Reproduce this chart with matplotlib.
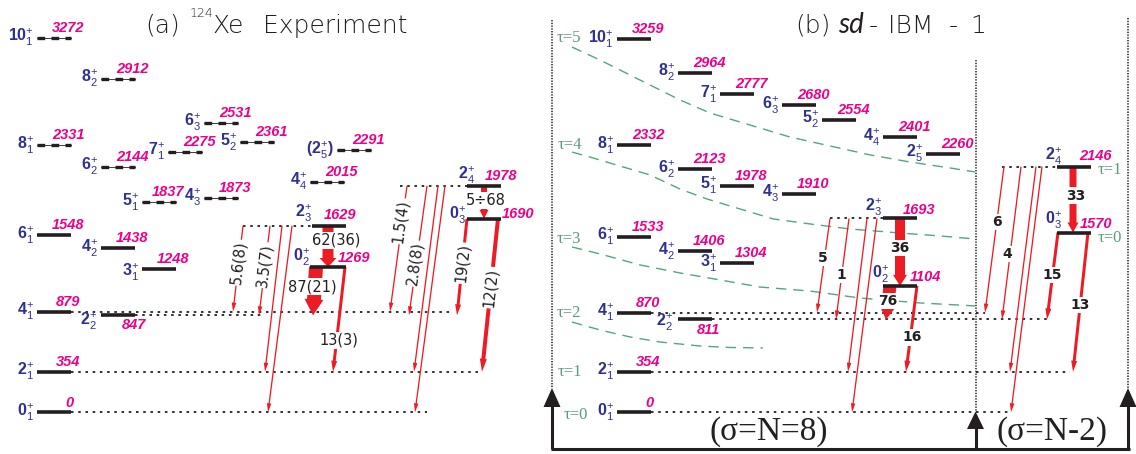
import math
import matplotlib
matplotlib.use("Agg")
import matplotlib.pyplot as plt
from matplotlib.patches import FancyArrowPatch, ArrowStyle, Polygon

plt.rcParams['mathtext.fontset'] = 'custom'
plt.rcParams['mathtext.rm'] = 'Liberation Sans'
plt.rcParams['mathtext.bf'] = 'Liberation Sans:bold'
plt.rcParams['mathtext.it'] = 'Liberation Sans:italic'

NAVY = '#2e3192'
MAGENTA = '#ec008c'
RED = '#ed1c24'
INK = '#231f20'
GREEN = '#55a679'
GREEN_TXT = '#5a9c78'
DPI = 100

# ---------------- 124Xe experimental levels (keV) ----------------
exp_spin = ['10', '8', '7', '6', '5', '8', '6', '5', '4', '2', '4',
            '2', '2', '0', '6', '4', '3', '0', '4', '2', '2', '0']
exp_index = [1, 2, 1, 3, 2, 1, 2, 1, 3, 5, 4,
             3, 4, 3, 1, 2, 1, 2, 1, 2, 1, 1]
exp_energy = [3272, 2912, 2275, 2531, 2361, 2331, 2144, 1837, 1873, 2291, 2015,
              1629, 1978, 1690, 1548, 1438, 1248, 1269, 879, 847, 354, 0]
exp_tentative = [True] * 11 + [False] * 11
exp_bracketed = ['2_5']

# experimental B(E2) values (W.u.)
exp_tr_from = ['2_3', '2_3', '2_3', '2_3', '2_3', '0_2', '0_2',
               '2_4', '2_4', '2_4', '2_4', '2_4', '0_3', '0_3']
exp_tr_to = ['4_1', '2_2', '2_1', '0_1', '0_2', '2_2', '2_1',
             '4_1', '2_2', '2_1', '0_1', '0_3', '2_2', '2_1']
exp_tr_label = ['5.6(8)', '3.5(7)', '', '', '62(36)', '87(21)', '13(3)',
                '1.5(4)', '2.8(8)', '', '', '5\u00f768', '19(2)', '12(2)']

# ---------------- sd-IBM-1 levels (keV) ----------------
ibm_spin = ['10', '8', '7', '6', '5', '4', '2', '8', '6', '5', '4',
            '2', '2', '0', '6', '4', '3', '0', '4', '2', '2', '0']
ibm_index = [1, 2, 1, 3, 2, 4, 5, 1, 2, 1, 3,
             3, 4, 3, 1, 2, 1, 2, 1, 2, 1, 1]
ibm_energy = [3259, 2964, 2777, 2680, 2554, 2401, 2260, 2332, 2123, 1978, 1910,
              1693, 2146, 1570, 1533, 1406, 1304, 1104, 870, 811, 354, 0]

# calculated B(E2) values (W.u.)
ibm_tr_from = ['2_3', '2_3', '2_3', '2_3', '2_3', '0_2', '0_2',
               '2_4', '2_4', '2_4', '2_4', '2_4', '0_3', '0_3']
ibm_tr_to = ['4_1', '2_2', '2_1', '0_1', '0_2', '2_2', '2_1',
             '4_1', '2_2', '2_1', '0_1', '0_3', '2_2', '2_1']
ibm_tr_label = ['5', '1', '', '', '36', '76', '16',
                '6', '4', '', '', '33', '15', '13']

# seniority bands (tau) of the O(6)-like classification
tau_names = ['\u03c4=5', '\u03c4=4', '\u03c4=3', '\u03c4=2', '\u03c4=1', '\u03c4=0',
             '\u03c4=1', '\u03c4=0']
tau_anchor = ['10_1', '8_1', '6_1', '4_1', '2_1', '0_1', '2_4', '0_3']

# dashed guide curves through the tau groups: (x, energy keV)
tau5_curve = [(572, 3190), (600, 3077), (640, 2902), (680, 2728), (710, 2614), (750, 2509),
              (790, 2404), (830, 2326), (870, 2248), (910, 2186), (950, 2134), (975, 2099)]
tau4_curve = [(572, 2273), (590, 2229), (620, 2151), (650, 2073), (680, 1950), (707, 1863),
              (740, 1776), (773, 1689), (810, 1645), (850, 1601), (900, 1566), (940, 1540),
              (975, 1514)]
tau3_curve = [(572, 1444), (600, 1383), (640, 1287), (680, 1217), (720, 1156), (760, 1094),
              (810, 1059), (860, 998), (920, 955), (975, 929)]
tau2_curve = [(572, 788), (600, 719), (630, 658), (660, 614), (700, 579), (730, 566),
              (763, 562)]

# ---------------- layout ----------------
exp_x0 = [37, 101, 168, 204, 240, 37, 101, 142, 204, 337, 310,
          312, 467, 467, 37, 101, 142, 310, 37, 101, 37, 37]
ibm_x0 = [617, 678, 720, 782, 822, 883, 926, 617, 678, 720, 782,
          883, 1057, 1057, 617, 678, 720, 883, 617, 678, 617, 617]
LEVEL_LEN = 34

# spin label offset (px right, px up) from the left end of the level
exp_lab_off = {'2_3': (0, 12), '2_4': (8, 10), '0_3': (-1, 3), '0_2': (0, 10),
               '2_2': (-4, -6), '4_2': (-3, -1), '3_1': (-3, -3), '2_5': (-3, 0)}
ibm_lab_off = {'2_3': (-1, 11), '2_4': (5, 10), '0_3': (5, 12), '0_2': (6, 11),
               '2_2': (-5, -3)}
# energy label offset (px right of the right end, px up)
exp_en_off = {'2_3': (-5.5, 11), '2_4': (0.5, 10), '0_3': (17.5, 5), '0_2': (8.5, 9),
              '2_2': (-1.5, -10), '0_1': (-2, 9), '5_1': (-8, 10)}
ibm_en_off = {'2_3': (2, 8), '2_4': (4, 11), '0_3': (5.5, 9), '0_2': (8.5, 9),
              '2_2': (-3.5, -11), '0_1': (-2, 9)}

# dotted extension lines: (level, x from, x to)
exp_rows = [('0_1', 71, 427), ('2_1', 71, 480), ('4_1', 71, 453), ('2_2', 135, 265),
            ('2_3', 243, 312), ('2_4', 400, 467)]
ibm_rows = [('0_1', 651, 1010), ('2_1', 651, 1070), ('4_1', 651, 985), ('2_2', 712, 1047),
            ('2_3', 830, 883), ('2_4', 1002, 1057)]

# arrow geometry: x start, x end, (tail, head width, head length) px,
# label position along arrow, label x shift, rotated label
ARROWS = {'thin': (1.3, 4.5, 9), 'mid': (3.0, 6.0, 11), 'mid4': (4.0, 7.0, 13)}
exp_tr_geom = [(243, 233, 'thin', 0.43, 0, True), (270, 259, 'thin', 0.44, 0, True),
               (282, 265, 'thin', 0, 0, True), (292, 268, 'thin', 0, 0, True),
               (328, 328, (11, 17, 9), 0.35, 8, False), (316, 313, (14, 19, 16), 0.41, -2, False),
               (345, 333, 'mid', 0.70, 2, False),
               (407, 390, 'thin', 0.28, -2, True), (427, 409, 'thin', 0.60, -1, True),
               (438, 414, 'thin', 0, 0, True), (445, 415, 'thin', 0, 0, True),
               (484, 484, (6, 9, 9), 0.45, 2, False),
               (467, 457, 'mid', 0.46, 0, True), (498, 482, 'mid4', 0.45, 0, True)]
ibm_tr_geom = [(830, 817, 'thin', 0.42, -1.5, False), (849, 836, 'thin', 0.56, 0, False),
               (867, 848, 'thin', 0, 0, False), (877, 852, 'thin', 0, 0, False),
               (900, 900, (10, 14, 11), 0.44, 0, False), (890, 886, (13, 15, 12), 0.45, 0, False),
               (917, 906, 'mid', 0.60, 1.6, False),
               (1004, 985, 'thin', 0.38, 0, False), (1021, 1002, 'thin', 0.57, -3, False),
               (1036, 1010, 'thin', 0, 0, False), (1042, 1011, 'thin', 0, 0, False),
               (1073, 1073, (7, 11, 10), 0.44, 3, False),
               (1058, 1047, 'mid', 0.49, 0, False), (1088, 1073, 'mid', 0.52, 0, False)]

tau_lab_x = [568.5, 569.5, 569, 569, 570, 575.5, 1110, 1110]
tau_lab_dy = [1, 0, -2, 0, 0, -3, -3, -5]

# ---------------- figure ----------------
fig = plt.figure(figsize=(1136 / DPI, 454 / DPI), dpi=DPI)
ax = fig.add_axes([0, 0, 1, 1])
ax.set_xlim(0, 1136)
ax.set_ylim(-364.2, 3600.9)
ax.axis('off')


def spin_text(j, k, bracket=False):
    if bracket:
        return r'$\mathbf{(%s}^{+}_{%d}\mathbf{)}$' % (j, k)
    return r'$\mathbf{%s}^{+}_{%d}$' % (j, k)


def draw_scheme(spins, idxs, energies, x0s, tentative, lab_off, en_off, bracketed):
    pos = {}
    for i, (j, k, e, x0) in enumerate(zip(spins, idxs, energies, x0s)):
        key = f'{j}_{k}'
        length = 36 if (key == '0_2' and x0 == 310) else LEVEL_LEN
        x1 = x0 + length
        pos[key] = (x0, x1, e)
        tent = tentative[i] if tentative else False
        if tent:
            ax.plot([x0, x1], [e, e], color=INK, lw=0.6, zorder=5)
            ax.plot([x0, x1], [e, e], color=INK, lw=2.4, zorder=5,
                    dashes=(2.3, 1.9), solid_capstyle='butt', dash_capstyle='butt')
        else:
            ax.plot([x0, x1], [e, e], color=INK, lw=2.6, zorder=5,
                    solid_capstyle='butt')
        dx, dy = lab_off.get(key, (-3, 0))
        ax.annotate(spin_text(j, k, key in bracketed), xy=(x0, e), xytext=(dx, dy),
                    textcoords='offset pixels', ha='right', va='center',
                    fontsize=11.5, color=NAVY, zorder=6)
        ex, ey = en_off.get(key, (-3, 10))
        ax.annotate(str(e), xy=(x1, e), xytext=(ex, ey), textcoords='offset pixels',
                    ha='center', va='center', fontsize=10.5, color=MAGENTA,
                    fontfamily='Liberation Sans', fontweight='bold', fontstyle='italic',
                    zorder=6)
    return pos


def draw_rows(pos, rows):
    for key, xa, xb in rows:
        e = pos[key][2]
        ax.plot([xa, xb], [e, e], color=INK, lw=1.3, dashes=(1.4, 2.6), zorder=2)


def draw_transitions(pos, t_from, t_to, labels, geom, bold):
    for a, b, lab, g in zip(t_from, t_to, labels, geom):
        xa, xb, style, t, ldx, rot = g
        ea, eb = pos[a][2], pos[b][2]
        tw, hw, hl = ARROWS[style] if isinstance(style, str) else style
        arr = FancyArrowPatch((xa, ea), (xb, eb),
                              arrowstyle=ArrowStyle.Simple(head_length=hl, head_width=hw,
                                                           tail_width=tw),
                              mutation_scale=72 / DPI, color=RED, lw=0,
                              shrinkA=0, shrinkB=0, zorder=3)
        ax.add_patch(arr)
        if not lab:
            continue
        lx = xa + t * (xb - xa) + ldx
        ly = ea + t * (eb - ea)
        angle = 0
        if rot:
            p0 = ax.transData.transform((xb, eb))
            p1 = ax.transData.transform((xa, ea))
            angle = math.degrees(math.atan2(p1[1] - p0[1], p1[0] - p0[0]))
        ax.text(lx, ly, lab, rotation=angle, rotation_mode='anchor',
                ha='center', va='center', color=INK,
                fontsize=10 if bold else 10.5, fontfamily='DejaVu Sans',
                fontweight='bold' if bold else 'normal', zorder=4,
                bbox=dict(boxstyle='square,pad=0.08', fc='white', ec='none'))


exp_pos = draw_scheme(exp_spin, exp_index, exp_energy, exp_x0, exp_tentative,
                      exp_lab_off, exp_en_off, exp_bracketed)
ibm_pos = draw_scheme(ibm_spin, ibm_index, ibm_energy, ibm_x0, None,
                      ibm_lab_off, ibm_en_off, [])
draw_rows(exp_pos, exp_rows)
draw_rows(ibm_pos, ibm_rows)
draw_transitions(exp_pos, exp_tr_from, exp_tr_to, exp_tr_label, exp_tr_geom, False)
draw_transitions(ibm_pos, ibm_tr_from, ibm_tr_to, ibm_tr_label, ibm_tr_geom, True)

for curve in (tau5_curve, tau4_curve, tau3_curve, tau2_curve):
    xs, es = zip(*curve)
    ax.plot(xs, es, color=GREEN, lw=1.0, dashes=(7.5, 5.0), zorder=1)

for name, key, x, dy in zip(tau_names, tau_anchor, tau_lab_x, tau_lab_dy):
    ax.annotate(name, xy=(x, ibm_pos[key][2]), xytext=(0, dy), textcoords='offset pixels',
                ha='center', va='center', fontsize=12, color=GREEN_TXT,
                fontfamily='Liberation Serif', zorder=6)

# ---------------- frame, titles and boson-number axes ----------------
fax = fig.add_axes([0, 0, 1, 1])
fax.set_xlim(0, 1136)
fax.set_ylim(454, 0)
fax.axis('off')
fax.patch.set_alpha(0)

for x, ytop, ybot in ((552, 20, 388), (975.5, 60, 411), (1128, 18, 388)):
    fax.plot([x, x], [ytop, ybot], color=INK, lw=1.1, dashes=(0.9, 0.9))
for x, tip, base in ((552, 388, 407), (975.5, 411.5, 429), (1128, 388, 407)):
    fax.add_patch(Polygon([(x, tip), (x - 8.5, base), (x + 8.5, base)], closed=True,
                          color=INK, lw=0))
    fax.plot([x, x], [base - 1, 449], color=INK, lw=2.2, solid_capstyle='butt')
fax.plot([550.5, 1129.5], [449, 449], color=INK, lw=2.2, solid_capstyle='butt')

fax.text(769, 432, '(\u03c3=N=8)', ha='center', va='center', fontsize=24,
         fontfamily='Liberation Serif', color=INK)
fax.text(1052.5, 432, '(\u03c3=N-2)', ha='center', va='center', fontsize=24,
         fontfamily='Liberation Serif', color=INK)

tkw = dict(va='baseline', color=INK)
fax.text(145, 33, '(a)', fontsize=18, fontweight='light', fontfamily='DejaVu Sans', **tkw)
fax.text(190, 17, '124', fontsize=9, fontweight='light', fontfamily='DejaVu Sans', **tkw)
fax.text(213, 33, 'Xe', fontsize=18, fontweight='light', fontfamily='DejaVu Sans', **tkw)
fax.text(263, 33, 'Experiment', fontsize=18, fontweight='light', fontfamily='DejaVu Sans',
         **tkw)
fax.text(795, 33, '(b)', fontsize=18, fontweight='light', fontfamily='DejaVu Sans', **tkw)
fax.text(838, 33, 'sd', fontsize=20, fontstyle='italic', fontweight='normal',
         fontfamily='Lato', **tkw)
fax.text(869, 33, '-', fontsize=18, fontweight='light', fontfamily='DejaVu Sans', **tkw)
fax.text(888, 33, 'IBM', fontsize=18, fontweight='light', fontfamily='DejaVu Sans', **tkw)
fax.text(949, 33, '-', fontsize=18, fontweight='light', fontfamily='DejaVu Sans', **tkw)
fax.text(970, 33, '1', fontsize=18, fontweight='light', fontfamily='DejaVu Sans', **tkw)

fig.savefig('out.png', dpi=DPI, facecolor='white')
